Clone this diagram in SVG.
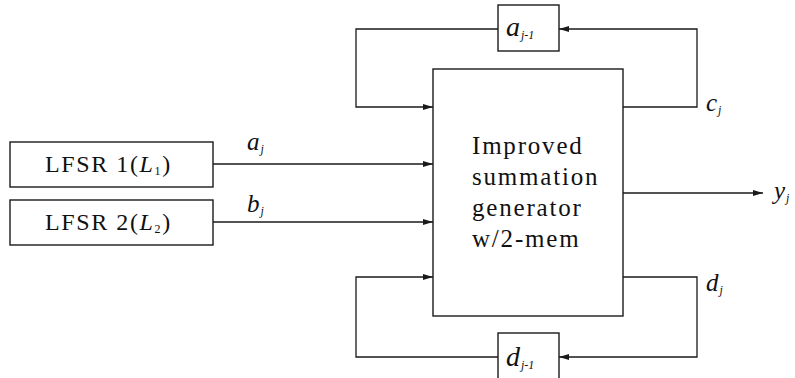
<svg xmlns="http://www.w3.org/2000/svg" width="795" height="378" viewBox="0 0 795 378">
<style>
.box{fill:none;stroke:#1a1a1a;stroke-width:1.4}
.ln{fill:none;stroke:#1a1a1a;stroke-width:1.3}
.t{font-family:"Liberation Serif","Times New Roman",serif;fill:#111}
.main{font-size:25px;letter-spacing:1.8px}
.lf{font-size:24px;letter-spacing:1.6px}
.v{font-style:italic;font-size:25px}
.bv{font-style:italic;font-size:28px}
.s{font-style:italic;font-size:12px}
</style>
<defs>
<marker id="ah" markerWidth="10" markerHeight="6" refX="10" refY="3" orient="auto" markerUnits="userSpaceOnUse">
<path d="M0,0 L10,3 L0,6 Z" fill="#1a1a1a"/>
</marker>
</defs>
<rect width="795" height="378" fill="#fff"/>
<g id="connectors">
<polyline class="ln" points="213,164 433,164" marker-end="url(#ah)"/>
<polyline class="ln" points="213,222 433,222" marker-end="url(#ah)"/>
<polyline class="ln" points="623,193 763,193" marker-end="url(#ah)"/>
<polyline class="ln" points="623,107 697,107 697,29 559,29" marker-end="url(#ah)"/>
<polyline class="ln" points="498,29 356,29 356,107 433,107" marker-end="url(#ah)"/>
<polyline class="ln" points="623,277 697,277 697,357 559,357" marker-end="url(#ah)"/>
<polyline class="ln" points="498,357 356,357 356,277 433,277" marker-end="url(#ah)"/>
<text class="t v" x="247" y="150">a<tspan class="s" dx="1" dy="3">j</tspan></text>
<text class="t v" x="247" y="212">b<tspan class="s" dx="1" dy="3">j</tspan></text>
<text class="t v" x="706" y="111">c<tspan class="s" dx="1" dy="3">j</tspan></text>
<text class="t v" x="706" y="291">d<tspan class="s" dx="1" dy="3">j</tspan></text>
<text class="t v" x="774" y="199">y<tspan class="s" dx="1" dy="3">j</tspan></text>
</g>
<g id="lfsr1">
<rect class="box" x="10" y="142" width="203" height="45"/>
<text class="t lf" x="45" y="172">LFSR 1(<tspan font-style="italic">L</tspan><tspan font-size="12px" dy="3">1</tspan><tspan dy="-3">)</tspan></text>
</g>
<g id="lfsr2">
<rect class="box" x="10" y="200" width="203" height="45"/>
<text class="t lf" x="45" y="230">LFSR 2(<tspan font-style="italic">L</tspan><tspan font-size="12px" dy="3">2</tspan><tspan dy="-3">)</tspan></text>
</g>
<g id="main">
<rect class="box" x="433" y="69" width="190" height="247"/>
<text class="t main" x="472" y="154">Improved</text>
<text class="t main" x="472" y="185">summation</text>
<text class="t main" x="472" y="216">generator</text>
<text class="t main" x="472" y="247">w/2-mem</text>
</g>
<g id="aprev">
<rect class="box" x="498" y="5" width="61" height="46"/>
<text class="t bv" x="506" y="36">a<tspan class="s" dx="1" dy="3">j-1</tspan></text>
</g>
<g id="dprev">
<rect class="box" x="498" y="333" width="61" height="50"/>
<text class="t bv" x="506" y="366">d<tspan class="s" dx="1" dy="3">j-1</tspan></text>
</g>
</svg>
